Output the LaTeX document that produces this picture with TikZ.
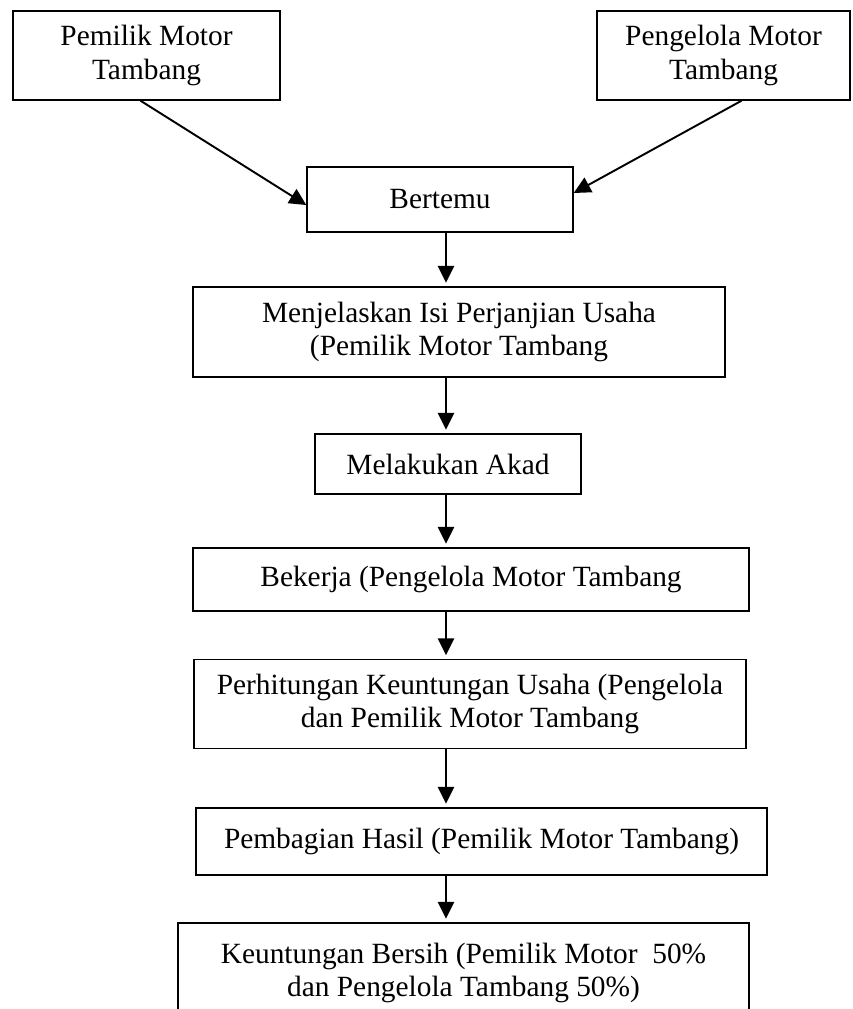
\documentclass[tikz,border=0pt]{standalone}
\usepackage{fontspec}
\setmainfont{Liberation Serif}
\usetikzlibrary{arrows.meta}

\begin{document}
\begin{tikzpicture}[x=0.0146cm, y=-0.0146cm,
    kotak/.style={draw, line width=0.6pt, align=center, inner sep=0pt,
      font=\fontsize{12.2}{13.8}\selectfont},
    panah/.style={-{Triangle[width=6.8pt,length=7pt]}, line width=0.8pt, shorten >=1.5pt}]

  \useasboundingbox (0,0) rectangle (852,1009);

  % Kedua pihak
  \node[kotak, minimum width=3.898cm, minimum height=1.299cm] (pemilik) at (146.5,55.5) {Pemilik Motor\\Tambang};
  \node[kotak, minimum width=3.694cm, minimum height=1.299cm] (pengelola) at (723.5,55.5) {Pengelola Motor\\Tambang};

  % Alur kerja sama
  \node[kotak, minimum width=3.884cm, minimum height=0.949cm] (bertemu) at (440,199.5) {Bertemu};
  \node[kotak, minimum width=7.767cm, minimum height=1.314cm] (jelas) at (459,332) {Menjelaskan Isi Perjanjian Usaha\\(Pemilik Motor Tambang};
  \node[kotak, minimum width=3.884cm, minimum height=0.876cm] (akad) at (448,464) {Melakukan Akad};
  \node[kotak, minimum width=8.118cm, minimum height=0.920cm] (kerja) at (471,579.5) {Bekerja (Pengelola Motor Tambang};
  \node[kotak, minimum width=8.059cm, minimum height=1.299cm] (hitung) at (470,704) {Perhitungan Keuntungan Usaha (Pengelola\\dan Pemilik Motor Tambang};
  \node[kotak, minimum width=8.337cm, minimum height=0.978cm] (bagi) at (481.5,841.5) {Pembagian Hasil (Pemilik Motor Tambang)};
  \node[kotak, minimum width=8.337cm, minimum height=1.46cm] (untung) at (463.5,973) {Keuntungan Bersih (Pemilik Motor\ \ 50\%\\dan Pengelola Tambang 50\%)};

  % Panah masuk ke pertemuan
  \draw[panah, shorten >=0pt] ([xshift=-2.5pt]pemilik.south) -- ([yshift=-2.3pt]bertemu.west);
  \draw[panah, shorten >=0pt] ([xshift=7.5pt]pengelola.south) -- ([yshift=2.7pt]bertemu.east);

  % Panah ke bawah
  \coordinate (poros) at (446,0);
  \draw[panah] (bertemu.south -| poros) -- (jelas.north -| poros);
  \draw[panah] (jelas.south -| poros) -- (akad.north -| poros);
  \draw[panah] (akad.south -| poros) -- (kerja.north -| poros);
  \draw[panah] (kerja.south -| poros) -- (hitung.north -| poros);
  \draw[panah] (hitung.south -| poros) -- (bagi.north -| poros);
  \draw[panah] (bagi.south -| poros) -- (untung.north -| poros);

\end{tikzpicture}
\end{document}
